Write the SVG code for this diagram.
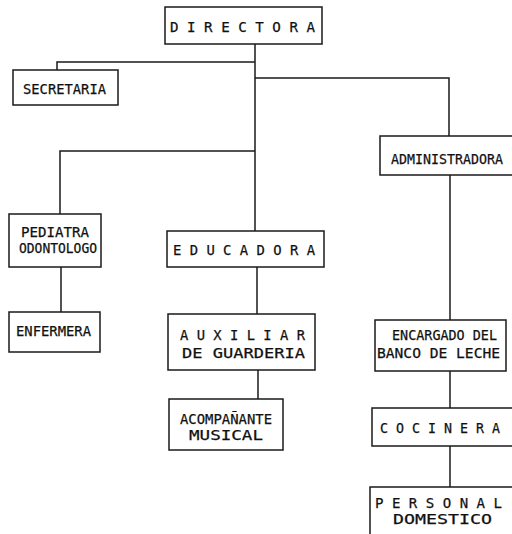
<svg xmlns="http://www.w3.org/2000/svg" width="512" height="534" viewBox="0 0 512 534">
<style>
.box{fill:#fff;stroke:#1a1a1a;stroke-width:1.5}
.ln{fill:none;stroke:#1a1a1a;stroke-width:1.5}
text{font-family:"DejaVu Sans Mono","Liberation Mono",monospace;font-size:14.5px;fill:#111;stroke:#111;stroke-width:0.25}
</style>
<rect width="512" height="534" fill="#fff"/>
<g id="connectors">
<path class="ln" d="M255,44 V231"/>
<path class="ln" d="M57,70 V62 H255"/>
<path class="ln" d="M255,78 H449 V136"/>
<path class="ln" d="M60,214 V151 H255"/>
<path class="ln" d="M61,267 V312"/>
<path class="ln" d="M257,267 V314"/>
<path class="ln" d="M258,370 V399"/>
<path class="ln" d="M450,175 V320"/>
<path class="ln" d="M450,371 V408"/>
<path class="ln" d="M450,446 V487"/>
</g>
<g id="directora"><rect class="box" x="165" y="7" width="157" height="37"/><text x="170" y="32" textLength="145" lengthAdjust="spacingAndGlyphs">D I R E C T O R A</text></g>
<g id="secretaria"><rect class="box" x="13" y="70" width="105" height="35"/><text x="23" y="94" textLength="83" lengthAdjust="spacingAndGlyphs">SECRETARIA</text></g>
<g id="administradora"><rect class="box" x="380" y="136" width="140" height="39"/><text x="391" y="164" textLength="112" lengthAdjust="spacingAndGlyphs">ADMINISTRADORA</text></g>
<g id="pediatra"><rect class="box" x="9" y="214" width="92" height="53"/><text x="21" y="237" textLength="68" lengthAdjust="spacingAndGlyphs">PEDIATRA</text><text x="19" y="253" textLength="78" lengthAdjust="spacingAndGlyphs">ODONTOLOGO</text></g>
<g id="enfermera"><rect class="box" x="9" y="312" width="91" height="40"/><text x="16" y="336" textLength="75" lengthAdjust="spacingAndGlyphs">ENFERMERA</text></g>
<g id="educadora"><rect class="box" x="167" y="231" width="157" height="36"/><text x="173" y="255" textLength="142" lengthAdjust="spacingAndGlyphs">E D U C A D O R A</text></g>
<g id="auxiliar"><rect class="box" x="168" y="314" width="147" height="56"/><text x="180" y="340" textLength="125" lengthAdjust="spacingAndGlyphs">A U X I L I A R</text><text x="182" y="358" textLength="123" lengthAdjust="spacingAndGlyphs">DE  GUARDERIA</text></g>
<g id="acompanante"><rect class="box" x="169" y="399" width="114" height="51"/><text x="180" y="424" textLength="92" lengthAdjust="spacingAndGlyphs">ACOMPAÑANTE</text><text x="189" y="440" textLength="74" lengthAdjust="spacingAndGlyphs">MUSICAL</text></g>
<g id="encargado"><rect class="box" x="375" y="320" width="131" height="51"/><text x="392" y="340" textLength="105" lengthAdjust="spacingAndGlyphs">ENCARGADO DEL</text><text x="377" y="358" textLength="123" lengthAdjust="spacingAndGlyphs">BANCO DE LECHE</text></g>
<g id="cocinera"><rect class="box" x="372" y="408" width="150" height="38"/><text x="380" y="433" textLength="120" lengthAdjust="spacingAndGlyphs">C O C I N E R A</text></g>
<g id="personal"><path class="box" d="M370,540 V487 H520"/><text x="375" y="508" textLength="127" lengthAdjust="spacingAndGlyphs">P E R S O N A L</text><text x="393" y="524" textLength="99" lengthAdjust="spacingAndGlyphs">DOMESTICO</text></g>
</svg>
